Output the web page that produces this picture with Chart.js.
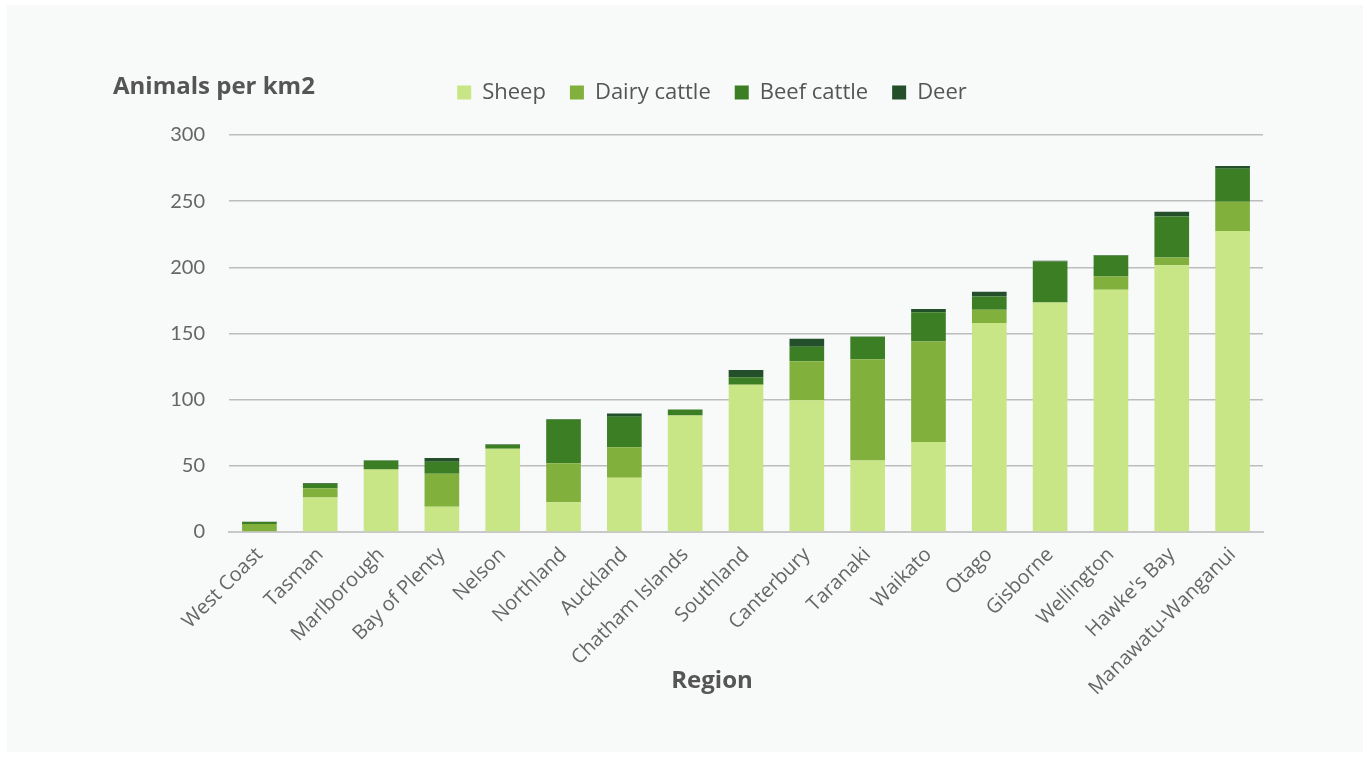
<!DOCTYPE html>
<html>
<head>
<meta charset="utf-8">
<title>Animals per km2 by region</title>
<script src="https://cdn.jsdelivr.net/npm/chart.js@4/dist/chart.umd.min.js"></script>
<style>
  html, body { margin: 0; padding: 0; background: #ffffff; }
  #panel {
    position: absolute;
    left: 7px;
    top: 5px;
    width: 1356px;
    height: 747px;
    background: #f8f9f9;
  }
</style>
</head>
<body>
<div id="panel"><canvas id="stock-chart" width="1356" height="747"></canvas></div>
<script>
// Regions, sorted by total stocking density
const regions = [
  'West Coast', 'Tasman', 'Marlborough', 'Bay of Plenty', 'Nelson', 'Northland',
  'Auckland', 'Chatham Islands', 'Southland', 'Canterbury', 'Taranaki', 'Waikato',
  'Otago', 'Gisborne', 'Wellington', "Hawke's Bay", 'Manawatu-Wanganui'
];

// Animals per km2, one value per region
const sheep       = [0.5, 26, 47, 19, 63, 22.5, 41, 88, 111, 99.5, 54, 68, 158, 173.5, 183, 201.5, 227.5];
const dairyCattle = [5.5, 7, 0.5, 25, 0, 29.5, 23, 0, 0.5, 29.5, 76.5, 76, 10, 0, 10, 6, 22];
const beefCattle  = [1.5, 3.5, 6.5, 9, 3, 33, 23, 4.5, 5.5, 11, 17, 22, 10, 31, 16, 31, 25];
const deer        = [0.3, 0.5, 0.3, 3, 0.3, 0.3, 2.5, 0, 5.5, 6, 0.3, 2.5, 3.5, 0.5, 0.3, 3.5, 2];

const yTicks = [0, 50, 100, 150, 200, 250, 300];

const colors = {
  sheep: '#c9e686',
  dairy: '#82b03d',
  beef: '#3b7e24',
  deer: '#23502a'
};

// Extra space under the legend before the plot starts
const legendSpacing = {
  id: 'legendSpacing',
  beforeInit(chart) {
    const fit = chart.legend.fit;
    chart.legend.fit = function () {
      fit.bind(chart.legend)();
      this.height += 21.5;
    };
  }
};

// Axis titles: units at the top left, region under the labels
const axisTitles = {
  id: 'axisTitles',
  afterDraw(chart) {
    const ctx = chart.ctx;
    ctx.save();
    ctx.fillStyle = '#555555';
    ctx.font = "bold 24px 'Open Sans'";
    ctx.textBaseline = 'middle';
    ctx.textAlign = 'left';
    ctx.fillText('Animals per km2', 106, 82);
    ctx.textAlign = 'center';
    ctx.fillText('Region', 705, 676);
    ctx.restore();
  }
};

const ctx = document.getElementById('stock-chart').getContext('2d');
const chart = new Chart(ctx, {
  type: 'bar',
  data: {
    labels: regions,
    datasets: [
      { label: 'Sheep', data: sheep, backgroundColor: colors.sheep },
      { label: 'Dairy cattle', data: dairyCattle, backgroundColor: colors.dairy },
      { label: 'Beef cattle', data: beefCattle, backgroundColor: colors.beef },
      { label: 'Deer', data: deer, backgroundColor: colors.deer }
    ]
  },
  options: {
    responsive: false,
    animation: false,
    layout: {
      padding: { left: 154, right: 100, top: 52.5, bottom: 0 }
    },
    datasets: {
      bar: {
        categoryPercentage: 1,
        barPercentage: 0.57,
        borderWidth: 0
      }
    },
    plugins: {
      legend: {
        position: 'top',
        labels: {
          boxWidth: 14,
          boxHeight: 14,
          padding: 24,
          color: '#555555',
          font: { family: "'Open Sans'", size: 22 }
        }
      },
      tooltip: { enabled: false },
      title: { display: false }
    },
    scales: {
      x: {
        stacked: true,
        grid: { display: false },
        border: { display: true, color: '#c8c8c8', width: 2 },
        ticks: {
          minRotation: 45,
          maxRotation: 45,
          color: '#666666',
          font: { family: "'Open Sans'", size: 20 }
        },
        afterFit(scale) {
          scale.height = 220;
        }
      },
      y: {
        stacked: true,
        min: 0,
        max: 300,
        afterBuildTicks(scale) {
          scale.ticks = yTicks.map(v => ({ value: v }));
        },
        grid: {
          color: '#bdbdbd',
          lineWidth: 1.5,
          drawTicks: false
        },
        border: { display: false },
        ticks: {
          padding: 24,
          color: '#666666',
          font: { family: 'Lato', size: 20 }
        },
        afterFit(scale) {
          scale.width = 68;
        }
      }
    }
  },
  plugins: [legendSpacing, axisTitles]
});
</script>
</body>
</html>
